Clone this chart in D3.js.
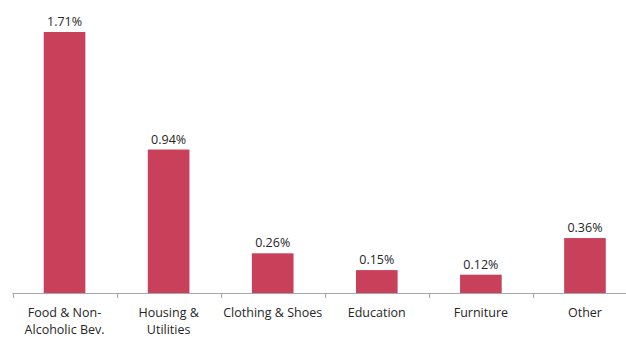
<!DOCTYPE html>
<html>
<head>
<meta charset="utf-8">
<script src="https://cdn.jsdelivr.net/npm/d3@7"></script>
<style>
	body { margin: 0; background: #fff; }
	text { font-family: "Open Sans", "Liberation Sans", sans-serif; fill: #262626; }
</style>
</head>
<body>
<svg id="chart"></svg>
<script>
const WIDTH = 626;
const HEIGHT = 338;

const categories = [
	["Food & Non-", "Alcoholic Bev."],
	["Housing &", "Utilities"],
	["Clothing & Shoes"],
	["Education"],
	["Furniture"],
	["Other"],
];
const values = [1.71, 0.94, 0.26, 0.15, 0.12, 0.36];

const svg = d3.select("#chart").attr("width", WIDTH).attr("height", HEIGHT);

const baseY = 293;
const AXIS_START = 12.5;
const xScale = d3
	.scaleBand(d3.range(categories.length), [AXIS_START, 637])
	.paddingInner(0.6)
	.paddingOuter(0.3);
const yScale = d3.scaleLinear([0, 1.71], [baseY, 32]);

svg.selectAll(".bar")
	.data(values)
	.join("rect")
	.classed("bar", true)
	.attr("x", (d, i) => xScale(i))
	.attr("width", xScale.bandwidth())
	.attr("y", d => yScale(d))
	.attr("height", d => baseY - yScale(d))
	.attr("fill", "#c9405a");

svg.selectAll(".value-label")
	.data(values)
	.join("text")
	.classed("value-label", true)
	.attr("x", (d, i) => xScale(i) + xScale.bandwidth() / 2)
	.attr("y", d => yScale(d) - 6)
	.attr("text-anchor", "middle")
	.attr("font-size", 12.5)
	.text(d => d.toFixed(2) + "%");

// axis line + ticks between categories
const step = xScale.step();
svg.append("line")
	.attr("x1", AXIS_START)
	.attr("x2", WIDTH)
	.attr("y1", baseY + 0.5)
	.attr("y2", baseY + 0.5)
	.attr("stroke", "#a6a6a6");

svg.selectAll(".tick")
	.data(d3.range(categories.length + 1))
	.join("line")
	.classed("tick", true)
	.attr("x1", i => Math.round(AXIS_START + i * step) + 0.5)
	.attr("x2", i => Math.round(AXIS_START + i * step) + 0.5)
	.attr("y1", baseY)
	.attr("y2", baseY + 5)
	.attr("stroke", "#a6a6a6");

const catLabels = svg.selectAll(".cat-label")
	.data(categories)
	.join("text")
	.classed("cat-label", true)
	.attr("x", (d, i) => xScale(i) + xScale.bandwidth() / 2)
	.attr("y", 317)
	.attr("text-anchor", "middle")
	.attr("font-size", 12.5);

catLabels.selectAll("tspan")
	.data(d => d)
	.join("tspan")
	.attr("x", function () { return this.parentNode.getAttribute("x"); })
	.attr("dy", (d, i) => (i === 0 ? 0 : 17))
	.text(d => d);
</script>
</body>
</html>
